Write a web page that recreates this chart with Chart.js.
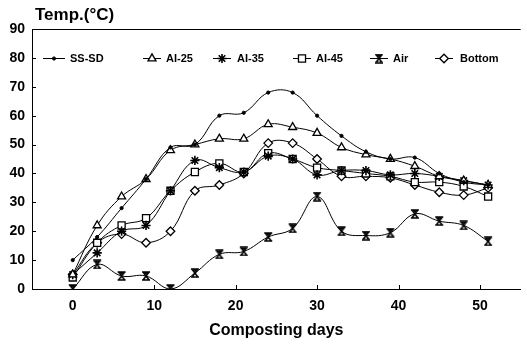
<!DOCTYPE html>
<html>
<head>
<meta charset="utf-8">
<script src="https://cdn.jsdelivr.net/npm/chart.js@4.4.0/dist/chart.umd.min.js"></script>
<style>
html,body{margin:0;padding:0;background:#fff;}
canvas{display:block;}
</style>
</head>
<body>
<canvas id="c" width="527" height="346"></canvas>
<script>
// ---- data ----
const days   = [0, 3, 6, 9, 12, 15, 18, 21, 24, 27, 30, 33, 36, 39, 42, 45, 48, 51];
const seriesNames = ['SS-SD', 'AI-25', 'AI-35', 'AI-45', 'Air', 'Bottom'];
const ssSd   = [10, 18, 28, 38, 49, 50, 60, 61, 68, 68, 60, 53, 47.5, 45, 45.5, 40, 37, 36];
const al25   = [5, 22, 32, 38, 48, 50, 52, 52, 57, 56, 54, 49, 46.5, 45, 42.5, 39, 37.5, 36];
const al35   = [5, 12.5, 20, 22, 34, 44.5, 42, 40.5, 46, 45, 39.5, 41, 41, 39.5, 40, 39, 37.5, 36];
const al45   = [4, 16, 22, 24.5, 34, 40.5, 43.5, 40.5, 47, 45, 42, 41, 40, 39, 37, 37, 35.5, 32];
const air    = [0, 8.5, 4.5, 4.5, 0, 5.5, 12, 13, 18, 21, 32, 20, 18.5, 19.5, 26, 23.5, 22, 16.5];
const bottom = [5, 16, 19, 16, 20, 34, 36, 40, 50.5, 50.5, 45, 39, 39, 38.5, 36, 33.5, 32.5, 35];
const xTickValues = [0, 10, 20, 30, 40, 50];
const yTickValues = [0, 10, 20, 30, 40, 50, 60, 70, 80, 90];
const yAxisTitle = 'Temp.(\u00B0C)';
const xAxisTitle = 'Composting days';

const FONT = '"Liberation Sans", Arial, sans-serif';

function makeHourglass() {
  const c = document.createElement('canvas');
  c.width = 10; c.height = 10;
  const g = c.getContext('2d');
  g.strokeStyle = '#000';
  g.fillStyle = '#000';
  g.lineWidth = 1.6;
  g.beginPath();
  g.moveTo(1, 1); g.lineTo(9, 1);
  g.moveTo(1, 9); g.lineTo(9, 9);
  g.moveTo(2, 1); g.lineTo(8, 9);
  g.moveTo(8, 1); g.lineTo(2, 9);
  g.stroke();
  g.beginPath();
  g.moveTo(3, 1); g.lineTo(7, 1); g.lineTo(5, 4); g.closePath(); g.fill();
  return c;
}
const hourglass = makeHourglass();

const markerStyles = [
  { pointStyle: 'circle',   radius: 1.6, bg: '#000', bw: 1 },
  { pointStyle: 'triangle', radius: 4.6, bg: '#fff', bw: 1.3 },
  { pointStyle: 'star',     radius: 4.6, bg: '#000', bw: 1.6 },
  { pointStyle: 'rect',     radius: 5.0, bg: '#fff', bw: 1.3 },
  { pointStyle: hourglass,  radius: 5,   bg: '#000', bw: 1 },
  { pointStyle: 'rectRot',  radius: 4.3, bg: '#fff', bw: 1.3 }
];
const allSeries = [ssSd, al25, al35, al45, air, bottom];

const datasets = allSeries.map((vals, i) => ({
  label: seriesNames[i],
  data: days.map((d, k) => ({ x: d, y: vals[k] })),
  borderColor: '#000',
  borderWidth: 1,
  backgroundColor: markerStyles[i].bg,
  pointStyle: markerStyles[i].pointStyle,
  pointRadius: markerStyles[i].radius,
  pointBorderWidth: markerStyles[i].bw,
  pointBorderColor: '#000',
  pointBackgroundColor: markerStyles[i].bg,
  tension: 0.4,
  fill: false
}));

// legend layout: [line start, line end, text start]
const legendLayout = [
  [43, 65, 70], [143, 161, 166], [213, 231, 237],
  [293, 311, 316], [370, 388, 393], [435, 453, 460]
];

const decor = {
  id: 'decor',
  afterDraw(chart) {
    const { ctx, chartArea: a, scales: { x, y } } = chart;
    ctx.save();
    ctx.strokeStyle = '#000';
    ctx.lineWidth = 1;
    ctx.beginPath();
    ctx.moveTo(a.left, a.top + 0.5);
    ctx.lineTo(a.right, a.top + 0.5);
    yTickValues.forEach(v => {
      const py = Math.round(y.getPixelForValue(v)) + 0.5;
      ctx.moveTo(a.left, py); ctx.lineTo(a.left + 4, py);
    });
    xTickValues.forEach(v => {
      if (v === 0) return;
      const px = Math.round(x.getPixelForValue(v)) + 0.5;
      ctx.moveTo(px, a.bottom); ctx.lineTo(px, a.bottom - 4);
    });
    ctx.stroke();

    ctx.fillStyle = '#000';
    ctx.textBaseline = 'middle';
    ctx.textAlign = 'left';
    ctx.font = 'bold 17px ' + FONT;
    ctx.fillText(yAxisTitle, 35, 15);

    const ly = Math.round(y.getPixelForValue(80)) + 0.5;
    ctx.font = 'bold 11px ' + FONT;
    legendLayout.forEach((L, i) => {
      ctx.strokeStyle = '#000';
      ctx.lineWidth = 1;
      ctx.beginPath(); ctx.moveTo(L[0], ly); ctx.lineTo(L[1], ly); ctx.stroke();
      const m = markerStyles[i];
      ctx.fillStyle = m.bg;
      ctx.lineWidth = m.bw;
      Chart.helpers.drawPoint(ctx, { pointStyle: m.pointStyle, radius: m.radius, rotation: 0, borderWidth: m.bw }, (L[0] + L[1]) / 2, ly);
      ctx.fillStyle = '#000';
      ctx.fillText(seriesNames[i], L[2], ly);
    });
    ctx.restore();
  }
};

new Chart(document.getElementById('c'), {
  type: 'line',
  data: { datasets },
  options: {
    responsive: false,
    devicePixelRatio: 1,
    animation: false,
    layout: { padding: { top: 29, right: 0, left: 0, bottom: 0 } },
    plugins: { legend: { display: false }, tooltip: { enabled: false } },
    scales: {
      x: {
        type: 'linear',
        min: -5, max: 55,
        afterBuildTicks: s => { s.ticks = xTickValues.map(v => ({ value: v })); },
        afterFit: s => { s.height = 57; },
        grid: { display: false, drawTicks: false },
        border: { display: true, color: '#000', width: 1 },
        ticks: { color: '#000', font: { family: FONT, size: 14, weight: 'bold' }, padding: 9, maxRotation: 0 },
        title: { display: true, text: xAxisTitle, color: '#000', font: { family: FONT, size: 16, weight: 'bold' }, padding: { top: 0, bottom: 6 } }
      },
      y: {
        min: 0, max: 90,
        afterBuildTicks: s => { s.ticks = yTickValues.map(v => ({ value: v })); },
        afterFit: s => { s.width = 32; },
        grid: { display: false, drawTicks: false },
        border: { display: true, color: '#000', width: 1 },
        ticks: { color: '#000', font: { family: FONT, size: 14, weight: 'bold' }, padding: 7 }
      }
    }
  },
  plugins: [decor]
});
</script>
</body>
</html>
